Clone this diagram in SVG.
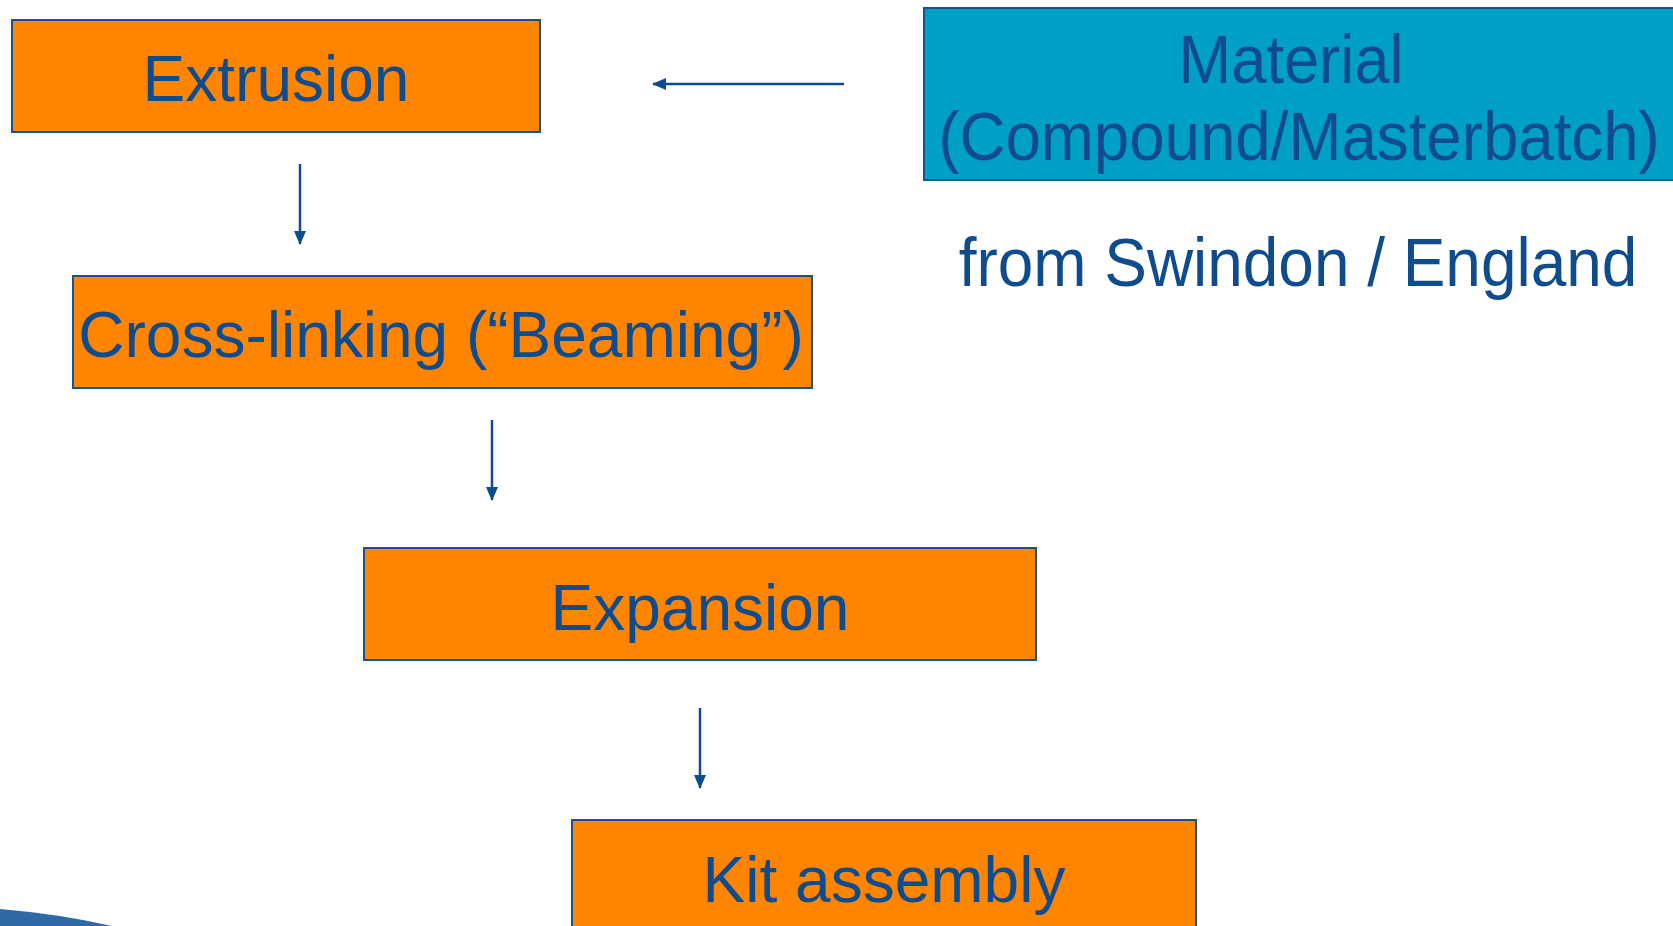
<svg xmlns="http://www.w3.org/2000/svg" width="1673" height="926" viewBox="0 0 1673 926">
  <style>
    .step { fill: #FF8500; stroke: #17528F; stroke-width: 2; }
    .source { fill: #00A0C6; stroke: #17528F; stroke-width: 2; }
    .label { font-family: "Liberation Sans", Arial, sans-serif; fill: #0E4C8E; text-anchor: middle; }
    .narrow { font-size: 68px; }
    .flow { stroke: #0E4C8E; stroke-width: 2.5; fill: none; marker-end: url(#head); }
  </style>
  <defs>
    <marker id="head" viewBox="0 0 14 12" refX="13" refY="6" markerWidth="14" markerHeight="12" markerUnits="userSpaceOnUse" orient="auto">
      <path d="M0,0 L14,6 L0,12 Z" fill="#0E4C8E"/>
    </marker>
  </defs>

  <rect width="1673" height="926" fill="#FFFFFF"/>

  <!-- decorative swoosh in the lower left corner -->
  <path d="M0,909 Q60,914 112,926 L0,926 Z" fill="#2E6BA6"/>

  <g id="connectors">
    <line class="flow" x1="844" y1="84" x2="653" y2="84"/>
    <line class="flow" x1="300" y1="164" x2="300" y2="244"/>
    <line class="flow" x1="492" y1="420" x2="492" y2="500"/>
    <line class="flow" x1="700" y1="708" x2="700" y2="788"/>
  </g>

  <g id="extrusion">
    <rect class="step" x="12" y="20" width="528" height="112"/>
    <text class="label" x="276" y="101" font-size="64">Extrusion</text>
  </g>

  <g id="material">
    <rect class="source" x="924" y="8" width="760" height="172"/>
    <!-- condensed lettering: horizontal squeeze around each line's centre -->
    <text class="label narrow" transform="translate(1291,83) scale(0.93,1)">Material</text>
    <text class="label narrow" transform="translate(1299,160) scale(0.936,1)">(Compound/Masterbatch)</text>
  </g>

  <g id="origin">
    <text class="label narrow" transform="translate(1298,286) scale(0.94,1)">from Swindon / England</text>
  </g>

  <g id="cross-linking">
    <rect class="step" x="73" y="276" width="739" height="112"/>
    <text class="label" x="441" y="357" font-size="64">Cross-linking (“Beaming”)</text>
  </g>

  <g id="expansion">
    <rect class="step" x="364" y="548" width="672" height="112"/>
    <text class="label" x="700" y="630" font-size="64">Expansion</text>
  </g>

  <g id="kit-assembly">
    <rect class="step" x="572" y="820" width="624" height="120"/>
    <text class="label" x="884" y="902" font-size="64">Kit assembly</text>
  </g>
</svg>
